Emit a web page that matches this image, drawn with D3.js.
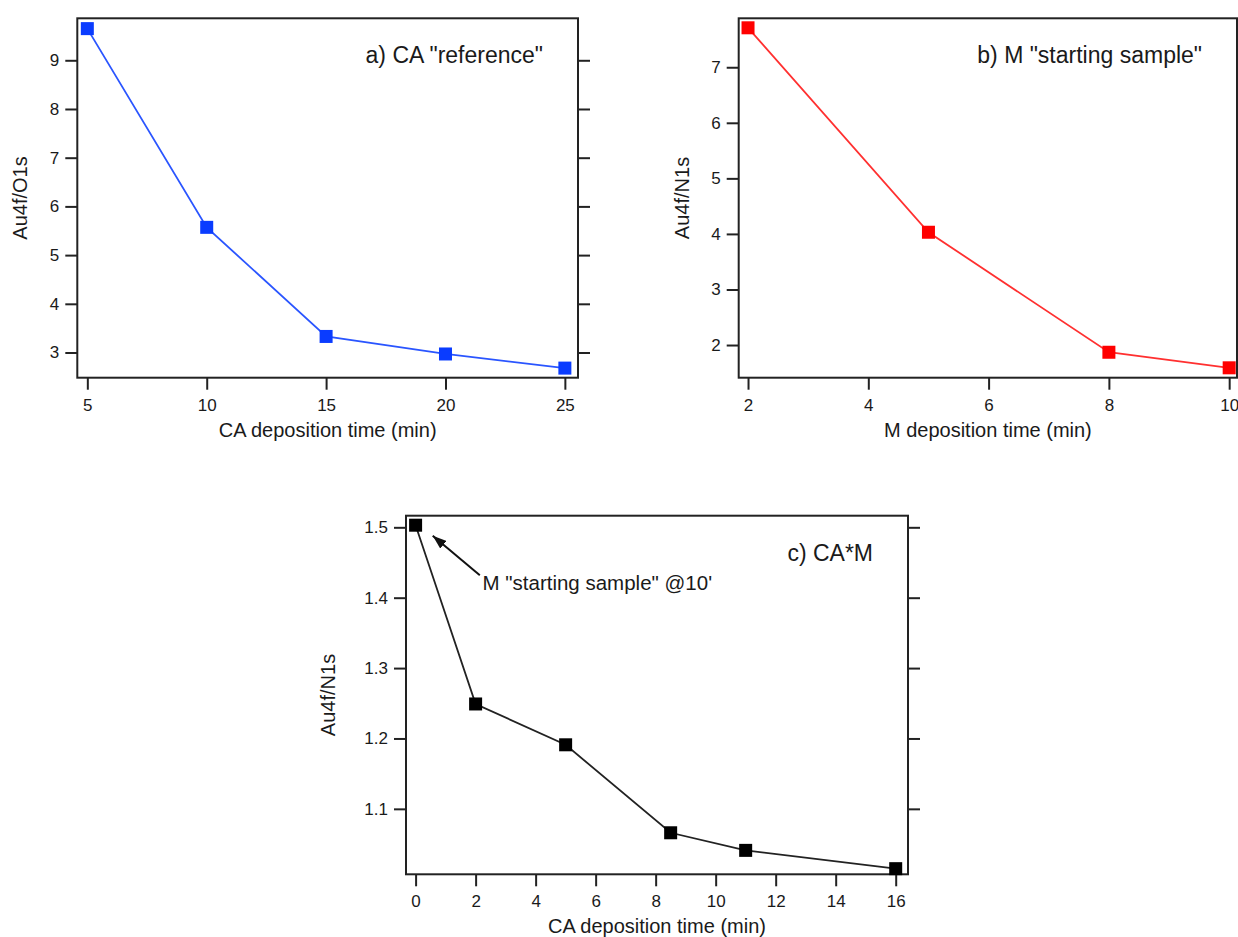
<!DOCTYPE html>
<html>
<head>
<meta charset="utf-8">
<script src="https://cdnjs.cloudflare.com/ajax/libs/d3/7.8.5/d3.min.js"></script>
<style>
  body { margin: 0; background: #fff; }
  text { font-family: "Liberation Sans", Arial, Helvetica, sans-serif; fill: #1a1a1a; }
</style>
</head>
<body>
<div id="plot"></div>
<script>
// Panel a: CA "reference"
var timeA = [5, 10, 15, 20, 25];
var ratioA = [9.65, 5.57, 3.33, 2.97, 2.68];
var xTicksA = [5, 10, 15, 20, 25];
var yTicksA = [3, 4, 5, 6, 7, 8, 9];

// Panel b: M "starting sample"
var timeB = [2, 5, 8, 10];
var ratioB = [7.71, 4.03, 1.87, 1.59];
var xTicksB = [2, 4, 6, 8, 10];
var yTicksB = [2, 3, 4, 5, 6, 7];

// Panel c: CA*M
var timeC = [0, 2, 5, 8.5, 11, 16];
var ratioC = [1.503, 1.249, 1.191, 1.066, 1.041, 1.015];
var xTicksC = [0, 2, 4, 6, 8, 10, 12, 14, 16];
var yTicksC = [1.1, 1.2, 1.3, 1.4, 1.5];

function init() {
  var w = 1238;
  var h = 937;
  var tick = 12;      // tick length, outside the frame
  var markSize = 13;  // side of the square markers

  var svg = d3.select("#plot")
    .append("svg")
    .attr("width", w)
    .attr("height", h)
    .style("background-color", "white");

  // arrow head for the annotation in panel c
  svg.append("defs").append("marker")
    .attr("id", "arrow")
    .attr("markerUnits", "userSpaceOnUse")
    .attr("viewBox", "0 0 14 10")
    .attr("refX", 14)
    .attr("refY", 5)
    .attr("markerWidth", 14)
    .attr("markerHeight", 10)
    .attr("orient", "auto")
    .append("path")
    .attr("d", "M0,0 L14,5 L0,10 Z")
    .style("fill", "#111");

  var panels = [
    {
      x: timeA, y: ratioA, xTicks: xTicksA, yTicks: yTicksA,
      xDomain: [4.58, 25.55], yDomain: [2.483, 9.862],
      box: [77.3, 578, 18.3, 377.7],
      line: "#2a55ff", mark: "#0a3cff",
      title: 'a) CA "reference"', xTitle: "CA deposition time (min)", yTitle: "Au4f/O1s",
      yTitleOff: 57, fmt: d3.format("d")
    },
    {
      x: timeB, y: ratioB, xTicks: xTicksB, yTicks: yTicksB,
      xDomain: [1.845, 10.13], yDomain: [1.412, 7.881],
      box: [738.7, 1237, 18.3, 377.7],
      line: "#ff3030", mark: "#ff0000",
      title: 'b) M "starting sample"', xTitle: "M deposition time (min)", yTitle: "Au4f/N1s",
      yTitleOff: 57, fmt: d3.format("d")
    },
    {
      x: timeC, y: ratioC, xTicks: xTicksC, yTicks: yTicksC,
      xDomain: [-0.32, 16.41], yDomain: [1.007, 1.5165],
      box: [406, 908, 515.7, 874.3],
      line: "#222", mark: "#000",
      title: "c) CA*M", xTitle: "CA deposition time (min)", yTitle: "Au4f/N1s",
      yTitleOff: 78, fmt: d3.format(".1f")
    }
  ];

  panels.forEach(function(p) {
    var left = p.box[0], right = p.box[1], top = p.box[2], bottom = p.box[3];

    var xScale = d3.scaleLinear().domain(p.xDomain).range([left, right]);
    var yScale = d3.scaleLinear().domain(p.yDomain).range([bottom, top]);
    p.xScale = xScale;
    p.yScale = yScale;

    var g = svg.append("g");

    // bottom axis
    g.append("g")
      .attr("transform", "translate(0," + bottom + ")")
      .call(d3.axisBottom(xScale).tickValues(p.xTicks).tickFormat(d3.format("d"))
        .tickSize(tick).tickSizeOuter(0).tickPadding(9));

    // left axis
    g.append("g")
      .attr("transform", "translate(" + left + ",0)")
      .call(d3.axisLeft(yScale).tickValues(p.yTicks).tickFormat(p.fmt)
        .tickSize(tick).tickSizeOuter(0).tickPadding(6));

    // right axis, ticks only
    g.append("g")
      .attr("transform", "translate(" + right + ",0)")
      .call(d3.axisRight(yScale).tickValues(p.yTicks).tickFormat("")
        .tickSize(tick).tickSizeOuter(0));

    g.selectAll(".domain").remove();
    g.selectAll(".tick line").style("stroke", "#222").style("stroke-width", 2);
    g.selectAll(".tick text")
      .style("font-size", "17px")
      .style("fill", "#1a1a1a");

    // frame
    g.append("rect")
      .attr("x", left)
      .attr("y", top)
      .attr("width", right - left)
      .attr("height", bottom - top)
      .style("fill", "none")
      .style("stroke", "#222")
      .style("stroke-width", 2);

    // data line
    var pts = p.x.map(function(d, i) { return [d, p.y[i]]; });
    g.append("path")
      .datum(pts)
      .attr("d", d3.line()
        .x(function(d) { return xScale(d[0]); })
        .y(function(d) { return yScale(d[1]); }))
      .style("fill", "none")
      .style("stroke", p.line)
      .style("stroke-width", 1.8);

    // square markers
    g.selectAll("rect.mark")
      .data(pts)
      .enter()
      .append("rect")
      .attr("class", "mark")
      .attr("x", function(d) { return xScale(d[0]) - markSize / 2; })
      .attr("y", function(d) { return yScale(d[1]) - markSize / 2; })
      .attr("width", markSize)
      .attr("height", markSize)
      .style("fill", p.mark);

    // panel label
    g.append("text")
      .attr("text-anchor", "end")
      .attr("x", right - 35)
      .attr("y", top + 45)
      .style("font-size", "23px")
      .text(p.title);

    // x title
    g.append("text")
      .attr("text-anchor", "middle")
      .attr("x", (left + right) / 2)
      .attr("y", bottom + 59)
      .style("font-size", "20px")
      .text(p.xTitle);

    // y title
    g.append("text")
      .attr("text-anchor", "middle")
      .attr("transform", "rotate(-90)")
      .attr("x", -(top + bottom) / 2)
      .attr("y", left - p.yTitleOff + 7)
      .style("font-size", "20px")
      .text(p.yTitle);
  });

  // annotation in panel c
  var c = panels[2];
  svg.append("line")
    .attr("x1", c.xScale(2.14))
    .attr("y1", c.yScale(1.432))
    .attr("x2", c.xScale(0.57))
    .attr("y2", c.yScale(1.488))
    .style("stroke", "#111")
    .style("stroke-width", 2)
    .attr("marker-end", "url(#arrow)");

  svg.append("text")
    .attr("x", c.xScale(2.23))
    .attr("y", c.yScale(1.411))
    .style("font-size", "20.5px")
    .text("M \"starting sample\" @10'");
}

window.onload = init;
</script>
</body>
</html>
